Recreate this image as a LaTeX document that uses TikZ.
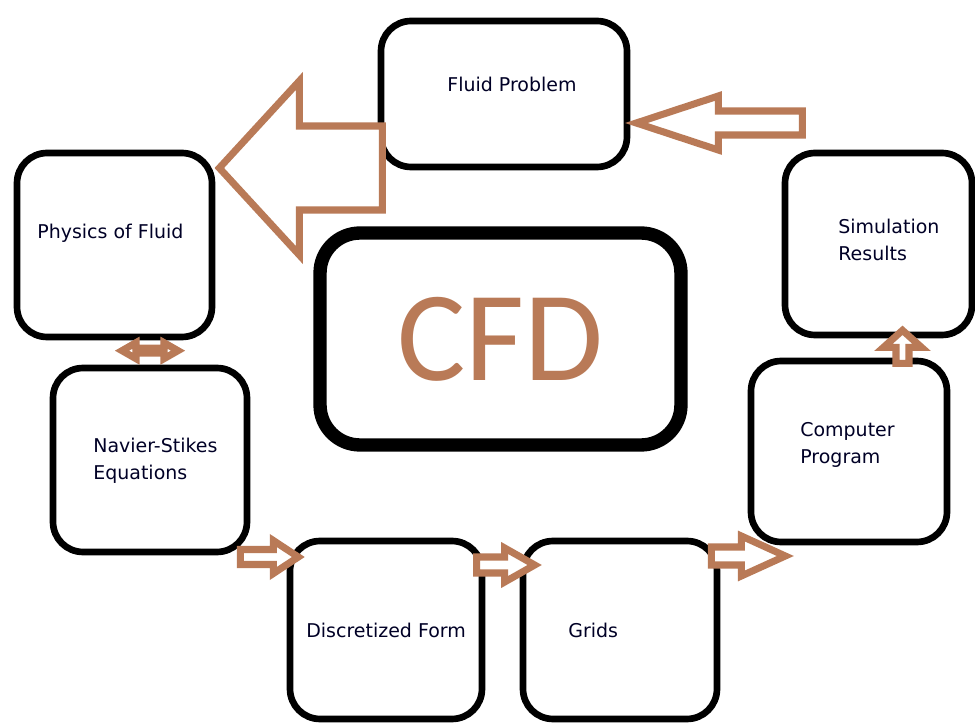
\documentclass[tikz,border=0pt]{standalone}
\usepackage{fontspec}
\setmainfont{DejaVu Sans}
\newfontfamily\cfdfont{Carlito}
\usetikzlibrary{positioning,calc}
\definecolor{paintbrown}{RGB}{185,122,87}

% block arrow: tip, angle, length, shaft half width, head half width, head length
\newcommand{\blockarrow}[6]{%
  \begin{scope}[shift={#1},rotate=#2]
  \draw[hollow] (0,0) -- (-#6,#5) -- (-#6,#4) -- (-#3,#4) -- (-#3,-#4) -- (-#6,-#4) -- (-#6,-#5) -- cycle;
  \end{scope}}
% double block arrow: centre, half length, shaft half width, head half width, head length
\newcommand{\doublearrow}[5]{%
  \begin{scope}[shift={#1}]
  \draw[hollow] (#2,0) -- ({#2-#5},#4) -- ({#2-#5},#3) -- ({-#2+#5},#3) -- ({-#2+#5},#4) -- (-#2,0)
     -- ({-#2+#5},-#4) -- ({-#2+#5},-#3) -- ({#2-#5},-#3) -- ({#2-#5},-#4) -- cycle;
  \end{scope}}

\begin{document}
\begin{tikzpicture}[x=0.02cm, y=-0.02cm]
\tikzstyle{box}=[draw=black, line width=3.8pt, rounded corners=0.6cm, fill=white]
\tikzstyle{cfdbox}=[draw=black, line width=7.6pt, rounded corners=0.8cm]
\tikzstyle{hollow}=[draw=paintbrown, line width=4pt, fill=white]
\tikzstyle{txt}=[anchor=west, inner sep=0pt, align=left, font=\fontsize{10.8}{15.3}\selectfont, text=black!85!blue]
\useasboundingbox (0,0) rectangle (975,726);

% boxes
\node[box, minimum width=4.92cm, minimum height=2.92cm] (fluid) at (504,94) {};
\node[box, minimum width=3.90cm, minimum height=3.68cm] (physics) at (114.5,245) {};
\node[cfdbox, minimum width=7.22cm, minimum height=4.24cm] (cfd) at (500.5,339)
   {\cfdfont\fontsize{73}{73}\selectfont\color{paintbrown}CFD};
\node[box, minimum width=3.88cm, minimum height=3.68cm] (navier) at (150,460) {};
\node[box, minimum width=3.84cm, minimum height=3.56cm] (disc) at (386,630) {};
\node[box, minimum width=3.88cm, minimum height=3.56cm] (grids) at (620,630) {};
\node[box, minimum width=3.92cm, minimum height=3.62cm] (computer) at (849,451.5) {};
\node[box, minimum width=3.74cm, minimum height=3.64cm] (sim) at (878.5,244) {};

% texts
\node[txt] (fluidtxt) at (447,84) {Fluid Problem};
\node[txt] (physicstxt) at (37,233) {Physics of Fluid};
\node[txt] (naviertxt) at (93,461) {Navier-Stikes\\Equations};
\node[txt] (disctxt) at (306,630) {Discretized Form};
\node[txt] (gridstxt) at (568,630) {Grids};
\node[txt] (computertxt) at (800,445) {Computer\\Program};
\node[txt] (simtxt) at (838,240) {Simulation\\Results};

% arrows
\blockarrow{($(physics.east)+(4,-77)$)}{180}{163}{42}{87}{80}
\blockarrow{($(fluid.east)+(6,29)$)}{180}{166}{12}{27}{82}
\doublearrow{($(navier.north)+(0,-14)$)}{28}{2.5}{8}{14}
\blockarrow{($(navier.east)+(48,97)$)}{0}{58}{7.5}{16.5}{25}
\blockarrow{($(grids.west)+(15,-65)$)}{0}{58}{8}{17}{30}
\blockarrow{($(grids.east)+(65,-74)$)}{0}{74}{9}{20}{44}
\blockarrow{($(sim.south)+(24,-8)$)}{90}{33}{6.5}{19}{17}
;
\end{tikzpicture}
\end{document}
